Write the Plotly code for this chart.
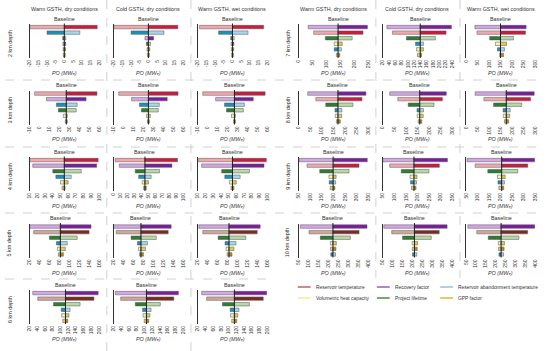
import plotly.graph_objects as go

W, H = 550, 351

CONDITIONS = ["Warm GSTH, dry conditions", "Cold GSTH, dry conditions", "Warm GSTH, wet conditions"]
PARAMS = ["Reservoir temperature", "Recovery factor", "Reservoir abandonment temperature",
          "Volumetric heat capacity", "Project lifetime", "GPP factor"]
DEPTHS = [2, 3, 4, 5, 6, 7, 8, 9, 10]

# PO (MWe) values; low/high lists follow PARAMS order; conditions order WD, CD, WW
base_2km = [0, 0, 0]
lo_2km_wd = [-20, -0.8, -10, -0.6, -0.9, -0.7]
hi_2km_wd = [19, 0.8, 9, 0.6, 0.9, 0.7]
lo_2km_cd = [-20, -2, -10, -0.6, -1.2, -0.8]
hi_2km_cd = [17, 3, 9, 0.6, 1.2, 0.8]
lo_2km_ww = [-19, -0.8, -8, -0.6, -1.0, -0.7]
hi_2km_ww = [18, 0.8, 9, 0.6, 1.0, 0.7]
range_2km = [[-20, 20], [-20, 20], [-20, 20]]
dtick_2km = [5, 5, 5]

base_3km = [27, 25, 27]
lo_3km_wd = [-5, 7, 17, 24, 19, 26]
hi_3km_wd = [58, 47, 38, 28, 37, 28]
lo_3km_cd = [-5, 8, 16, 23, 18, 24]
hi_3km_cd = [55, 44, 36, 27, 35, 26]
lo_3km_ww = [-5, 8, 17, 24, 19, 26]
hi_3km_ww = [58, 46, 37, 28, 36, 28]
range_3km = [[-10, 60], [-10, 60], [-10, 60]]
dtick_3km = [10, 10, 10]

base_4km = [55, 45, 55]
lo_4km_wd = [10, 14, 44, 50, 40, 52]
hi_4km_wd = [99, 97, 64, 60, 77, 56]
lo_4km_cd = [2, 8, 36, 41, 31, 43]
hi_4km_cd = [92, 84, 54, 50, 66, 47]
lo_4km_ww = [11, 15, 45, 51, 41, 53]
hi_4km_ww = [99, 96, 65, 60, 77, 57]
range_4km = [[10, 100], [0, 100], [10, 100]]
dtick_4km = [10, 10, 10]

base_5km = [82, 75, 83]
lo_5km_wd = [28, 20, 74, 76, 60, 78]
hi_5km_wd = [140, 144, 96, 92, 116, 88]
lo_5km_cd = [25, 18, 68, 70, 55, 72]
hi_5km_cd = [130, 136, 88, 84, 106, 80]
lo_5km_ww = [30, 22, 75, 77, 61, 79]
hi_5km_ww = [140, 146, 97, 93, 117, 89]
range_5km = [[20, 160], [20, 160], [20, 160]]
dtick_5km = [20, 20, 20]

base_6km = [113, 105, 115]
lo_6km_wd = [41, 28, 102, 103, 82, 106]
hi_6km_wd = [187, 198, 125, 122, 151, 119]
lo_6km_cd = [38, 24, 95, 96, 76, 99]
hi_6km_cd = [176, 188, 117, 114, 141, 111]
lo_6km_ww = [43, 30, 104, 105, 84, 108]
hi_6km_ww = [190, 199, 127, 124, 154, 121]
range_6km = [[20, 200], [20, 200], [20, 200]]
dtick_6km = [20, 20, 20]

base_7km = [142, 139, 150]
lo_7km_wd = [54, 34, 128, 128, 96, 136]
hi_7km_wd = [232, 248, 154, 157, 193, 148]
lo_7km_cd = [51, 33, 124, 127, 95, 130]
hi_7km_cd = [221, 238, 149, 149, 187, 143]
lo_7km_ww = [48, 39, 137, 128, 103, 146]
hi_7km_ww = [258, 261, 167, 176, 206, 163]
range_7km = [[0, 250], [20, 240], [0, 300]]
dtick_7km = [50, 20, 50]

base_8km = [170, 160, 175]
lo_8km_wd = [74, 39, 157, 158, 117, 163]
hi_8km_wd = [274, 291, 187, 186, 235, 180]
lo_8km_cd = [65, 30, 148, 149, 110, 153]
hi_8km_cd = [258, 275, 176, 175, 222, 169]
lo_8km_ww = [78, 40, 161, 162, 120, 167]
hi_8km_ww = [280, 296, 192, 190, 242, 185]
range_8km = [[0, 300], [0, 300], [0, 300]]
dtick_8km = [50, 50, 50]

base_9km = [199, 185, 205]
lo_9km_wd = [86, 52, 182, 181, 141, 186]
hi_9km_wd = [311, 347, 210, 212, 268, 207]
lo_9km_cd = [80, 50, 170, 168, 130, 174]
hi_9km_cd = [295, 330, 196, 198, 250, 194]
lo_9km_ww = [90, 55, 189, 187, 145, 193]
hi_9km_ww = [318, 348, 217, 220, 275, 214]
range_9km = [[50, 350], [50, 350], [50, 350]]
dtick_9km = [50, 50, 50]

base_10km = [223, 210, 228]
lo_10km_wd = [102, 58, 212, 210, 159, 211]
hi_10km_wd = [355, 395, 236, 240, 311, 238]
lo_10km_cd = [95, 55, 200, 198, 150, 199]
hi_10km_cd = [335, 375, 222, 226, 295, 224]
lo_10km_ww = [105, 60, 217, 214, 163, 215]
hi_10km_ww = [362, 398, 240, 245, 318, 243]
range_10km = [[50, 400], [50, 400], [50, 400]]
dtick_10km = [50, 50, 50]

BASES = {2: base_2km, 3: base_3km, 4: base_4km, 5: base_5km, 6: base_6km,
         7: base_7km, 8: base_8km, 9: base_9km, 10: base_10km}
LOS = {2: [lo_2km_wd, lo_2km_cd, lo_2km_ww], 3: [lo_3km_wd, lo_3km_cd, lo_3km_ww],
       4: [lo_4km_wd, lo_4km_cd, lo_4km_ww], 5: [lo_5km_wd, lo_5km_cd, lo_5km_ww],
       6: [lo_6km_wd, lo_6km_cd, lo_6km_ww], 7: [lo_7km_wd, lo_7km_cd, lo_7km_ww],
       8: [lo_8km_wd, lo_8km_cd, lo_8km_ww], 9: [lo_9km_wd, lo_9km_cd, lo_9km_ww],
       10: [lo_10km_wd, lo_10km_cd, lo_10km_ww]}
HIS = {2: [hi_2km_wd, hi_2km_cd, hi_2km_ww], 3: [hi_3km_wd, hi_3km_cd, hi_3km_ww],
       4: [hi_4km_wd, hi_4km_cd, hi_4km_ww], 5: [hi_5km_wd, hi_5km_cd, hi_5km_ww],
       6: [hi_6km_wd, hi_6km_cd, hi_6km_ww], 7: [hi_7km_wd, hi_7km_cd, hi_7km_ww],
       8: [hi_8km_wd, hi_8km_cd, hi_8km_ww], 9: [hi_9km_wd, hi_9km_cd, hi_9km_ww],
       10: [hi_10km_wd, hi_10km_cd, hi_10km_ww]}
RANGES = {2: range_2km, 3: range_3km, 4: range_4km, 5: range_5km, 6: range_6km,
          7: range_7km, 8: range_8km, 9: range_9km, 10: range_10km}
DTICKS = {2: dtick_2km, 3: dtick_3km, 4: dtick_4km, 5: dtick_5km, 6: dtick_6km,
          7: dtick_7km, 8: dtick_8km, 9: dtick_9km, 10: dtick_10km}

# ---- styles ----
LEFT_COL = ["#F2A7AE", "#D5A6E6", "#1E90B4", "#F6F2B0", "#2F7D2E", "#F0CD6A"]
RIGHT_COL = ["#C81D3C", "#7B1E9E", "#A6D5EC", "#D8CD52", "#B7D9A6", "#B8861A"]
BROWN_LEFT, BROWN_RIGHT = "#CFA79A", "#7B2B20"
LEG_COL = ["#C0606C", "#8B5FC8", "#9DBBEA", "#F2EC9A", "#4E8A40", "#E2B63C"]
FONT = "Liberation Sans, Arial, sans-serif"
TXT = "#333333"
FS = 5.4
LFS = 4.9

COLX = [[27, 112, 197], [299, 384, 468]]
PW, PH = 70, 34


def px(x):
    return x / W


def py(y):
    return 1 - y / H


fig = go.Figure()
layout = {}
annotations = []
shapes = []
k = 0
for di, d in enumerate(DEPTHS):
    group = 0 if d <= 6 else 1
    row = di if group == 0 else di - 5
    top = 24 + 66.5 * row
    bot = top + PH
    for ci in range(3):
        k += 1
        xs = "" if k == 1 else str(k)
        x0 = COLX[group][ci]
        base = BASES[d][ci]
        lo = LOS[d][ci]
        hi = HIS[d][ci]
        rng = RANGES[d][ci]
        dt = DTICKS[d][ci]
        swing = [h - l for l, h in zip(lo, hi)]
        order = sorted(range(6), key=lambda i: -swing[i])
        lcol = list(LEFT_COL)
        rcol = list(RIGHT_COL)
        if d in (5, 6, 10):
            lcol[0], rcol[0] = BROWN_LEFT, BROWN_RIGHT
        ys = list(range(6))
        fig.add_trace(go.Bar(
            y=ys, x=[base - lo[i] for i in order], base=[lo[i] for i in order],
            orientation="h", width=0.62,
            marker=dict(color=[lcol[i] for i in order], line=dict(color="#555555", width=0.5)),
            xaxis="x" + xs, yaxis="y" + xs, showlegend=False, hoverinfo="skip"))
        fig.add_trace(go.Bar(
            y=ys, x=[hi[i] - base for i in order], base=[base] * 6,
            orientation="h", width=0.62,
            marker=dict(color=[rcol[i] for i in order], line=dict(color="#555555", width=0.5)),
            xaxis="x" + xs, yaxis="y" + xs, showlegend=False, hoverinfo="skip"))
        tv = list(range(rng[0], rng[1] + 1, dt))
        layout["xaxis" + xs] = dict(
            domain=[px(x0), px(x0 + PW)], anchor="y" + xs, range=rng,
            tickvals=tv, ticktext=[str(v) for v in tv], tickangle=-90,
            tickfont=dict(size=5, family=FONT, color=TXT),
            showgrid=False, zeroline=False, showline=False, ticks="")
        layout["yaxis" + xs] = dict(
            domain=[py(bot), py(top)], anchor="x" + xs, range=[5.55, -0.55],
            showticklabels=False, showgrid=False, zeroline=False,
            showline=True, linecolor="#333333", linewidth=1, ticks="")
        # baseline line and label
        shapes.append(dict(type="line", xref="x" + xs, yref="paper", x0=base, x1=base,
                           y0=py(top - 0.5), y1=py(bot), line=dict(color="#222222", width=1)))
        annotations.append(dict(text="Baseline", x=base, xref="x" + xs, y=py(top - 0.5),
                                yref="paper", yanchor="bottom", xanchor="center",
                                showarrow=False, font=dict(size=FS, family=FONT, color=TXT)))
        annotations.append(dict(text="PO (MWₑ)", x=px(x0 + PW / 2), xref="paper",
                                y=py(bot + 15), yref="paper", yanchor="middle", xanchor="center",
                                showarrow=False,
                                font=dict(size=FS, family=FONT, color=TXT, style="italic")))
        if row == 0:
            annotations.append(dict(text=CONDITIONS[ci], x=px(x0 + PW / 2), xref="paper",
                                    y=py(9), yref="paper", yanchor="middle", xanchor="center",
                                    showarrow=False, font=dict(size=FS, family=FONT, color=TXT)))
        if ci == 0:
            annotations.append(dict(text=f"{d} km depth", x=px(7 if group == 0 else 288), xref="paper",
                                    y=py((top + bot) / 2 + 2), yref="paper", textangle=-90,
                                    xanchor="center", yanchor="middle", showarrow=False,
                                    font=dict(size=FS, family=FONT, color=TXT)))

# dashed separators
dash = dict(color="#C4C4C4", width=0.8, dash="dash")
for yy in (80, 147, 213):
    shapes.append(dict(type="line", xref="paper", yref="paper", x0=px(2), x1=px(548),
                       y0=py(yy), y1=py(yy), line=dash))
shapes.append(dict(type="line", xref="paper", yref="paper", x0=px(2), x1=px(272),
                   y0=py(279), y1=py(279), line=dash))
for xx in (105, 190):
    shapes.append(dict(type="line", xref="paper", yref="paper", x0=px(xx), x1=px(xx),
                       y0=py(0), y1=py(351), line=dash))
for xx in (377, 462):
    shapes.append(dict(type="line", xref="paper", yref="paper", x0=px(xx), x1=px(xx),
                       y0=py(0), y1=py(278), line=dash))

# legend
leg_x = [298, 378, 442]
leg_y = [287, 298]
for i, name in enumerate(PARAMS):
    r, c = divmod(i, 3)
    shapes.append(dict(type="line", xref="paper", yref="paper", x0=px(leg_x[c]), x1=px(leg_x[c] + 13),
                       y0=py(leg_y[r]), y1=py(leg_y[r]), line=dict(color=LEG_COL[i], width=1.5)))
    annotations.append(dict(text=name, x=px(leg_x[c] + 16), xref="paper", y=py(leg_y[r]),
                            yref="paper", xanchor="left", yanchor="middle", showarrow=False,
                            font=dict(size=LFS, family=FONT, color=TXT)))

fig.update_layout(**layout)
fig.update_layout(
    width=W, height=H, margin=dict(l=0, r=0, t=0, b=0),
    paper_bgcolor="white", plot_bgcolor="white", barmode="overlay",
    annotations=annotations, shapes=shapes, showlegend=False,
    font=dict(family=FONT, color=TXT))
fig.write_html("out.html", config={"displayModeBar": False},
               post_script="document.body.style.margin='0';document.body.style.overflow='hidden';")
